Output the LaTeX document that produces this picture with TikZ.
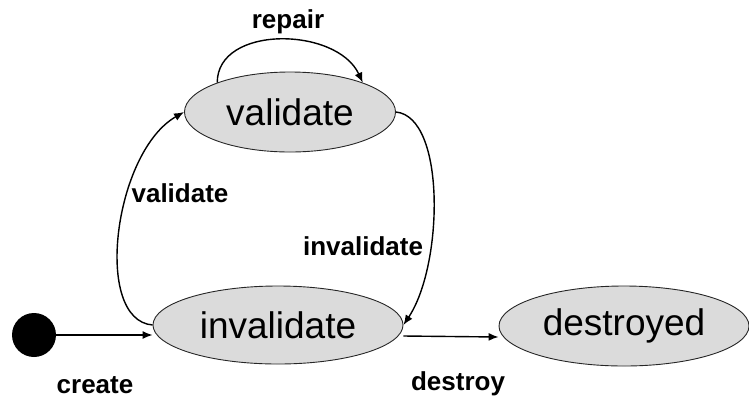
\documentclass[tikz,border=0pt]{standalone}
\usepackage{fontspec}
\setmainfont{Liberation Sans}
\usetikzlibrary{arrows.meta,shapes.geometric}
\begin{document}
\begin{tikzpicture}[x=1pt,y=-1pt,
  state/.style={ellipse,draw=black!85,line width=0.9pt,fill=black!14,inner sep=0pt,
    font=\fontsize{37}{40}\selectfont},
  lbl/.style={font=\bfseries\fontsize{26}{28}\selectfont,anchor=base,inner sep=0pt},
  conn/.style={line width=1.4pt,-{Latex[length=10pt,width=8pt]}}]
\useasboundingbox (0,0) rectangle (749,397);
\node[circle,fill=black,minimum size=44pt,inner sep=0pt] (init) at (34,335) {};
\node[state,minimum width=211pt,minimum height=80pt] (val) at (290,112) {validate};
\node[state,minimum width=250pt,minimum height=78pt] (inv) at (278,325) {invalidate};
\node[state,minimum width=250pt,minimum height=80pt] (des) at (624,326) {destroyed};
\draw[conn] (init.east) -- (init -| inv.west);
\draw[conn] ([yshift=-11pt]inv.east) -- ([yshift=-11pt]des.west);
\draw[conn] (val.158) .. controls +(0,-58) and +(-26,-56) .. (val.22);
\draw[conn] (inv.west) .. controls +(-60,-5) and +(-70,40) .. (val.west);
\draw[conn] (val.east) .. controls +(50,5) and +(40,-60) .. (inv.east);
\node[lbl] (lrep) at (288,28) {repair};
\node[lbl] (lval) at (180,202) {validate};
\node[lbl] (linv) at (363,255) {invalidate};
\node[lbl] (lcre) at (95,393) {create};
\node[lbl] (ldes) at (458,390) {destroy};
\end{tikzpicture}
\end{document}
